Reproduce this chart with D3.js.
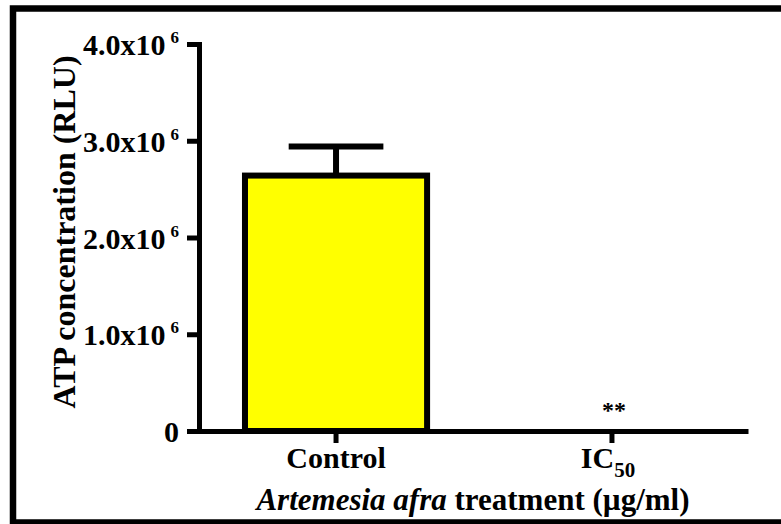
<!DOCTYPE html>
<html>
<head>
<meta charset="utf-8">
<script src="https://cdn.jsdelivr.net/npm/d3@7"></script>
<style>
  body { margin: 0; background: #fff; }
  text { font-family: "Liberation Serif", "Times New Roman", serif; font-weight: bold; fill: #000; }
</style>
</head>
<body>
<script>
// chart data
var categories = ["Control", "IC50"];
var means = [2.64e6, 0];
var sems = [0.30e6, 0];
var stars = ["", "**"];
var yTicks = [0, 1e6, 2e6, 3e6, 4e6];
var yTickMantissa = ["0", "1.0", "2.0", "3.0", "4.0"];
var yTickExponent = "6";

var svgWidth = 781;
var svgHeight = 524;

var svg = d3.select("body")
  .append("svg")
  .attr("width", svgWidth)
  .attr("height", svgHeight);

// outer frame (right edge runs off the picture)
svg.append("rect")
  .attr("x", 13)
  .attr("y", 8.5)
  .attr("width", 800)
  .attr("height", 514)
  .attr("fill", "#fff")
  .attr("stroke", "#000")
  .attr("stroke-width", 6.5);

var xScale = d3.scaleBand()
  .domain(categories)
  .range([200, 748])
  .paddingInner(0.34)
  .paddingOuter(0.163);

var yScale = d3.scaleLinear()
  .domain([0, 4e6])
  .range([431, 44]);

// bars (a zero value gives a zero-height rect, which draws nothing)
svg.selectAll(".bar")
  .data(categories)
  .enter()
  .append("rect")
  .attr("class", "bar")
  .attr("x", function(d) { return xScale(d); })
  .attr("width", xScale.bandwidth())
  .attr("y", function(d, i) { return yScale(means[i]); })
  .attr("height", function(d, i) { return yScale(0) - yScale(means[i]); })
  .attr("fill", "#ffff00")
  .attr("stroke", "#000")
  .attr("stroke-width", 6);

// error bars (upper only)
var capHalf = xScale.bandwidth() * 0.26;
categories.forEach(function(c, i) {
  if (!sems[i]) return;
  var cx = xScale(c) + xScale.bandwidth() / 2;
  svg.append("line")
    .attr("x1", cx).attr("x2", cx)
    .attr("y1", yScale(means[i]))
    .attr("y2", yScale(means[i] + sems[i]))
    .attr("stroke", "#000").attr("stroke-width", 6);
  svg.append("line")
    .attr("x1", cx - capHalf).attr("x2", cx + capHalf)
    .attr("y1", yScale(means[i] + sems[i]))
    .attr("y2", yScale(means[i] + sems[i]))
    .attr("stroke", "#000").attr("stroke-width", 6);
});

// significance marks
svg.selectAll(".star")
  .data(categories)
  .enter()
  .append("text")
  .attr("class", "star")
  .attr("x", function(d) { return xScale(d) + xScale.bandwidth() / 2 + 2; })
  .attr("y", function(d, i) { return yScale(means[i] + sems[i]) - 13; })
  .attr("text-anchor", "middle")
  .attr("font-size", 24)
  .text(function(d, i) { return stars[i]; });

// y axis
var leftAxis = d3.axisLeft(yScale)
  .tickValues(yTicks)
  .tickSize(12)
  .tickSizeOuter(0)
  .tickPadding(8);

var yAxisG = svg.append("g")
  .attr("transform", "translate(199,0)")
  .call(leftAxis);

yAxisG.select(".domain").attr("stroke-width", 5).attr("stroke-linecap", "square");
yAxisG.selectAll(".tick line").attr("stroke-width", 5);
yAxisG.selectAll(".tick text")
  .attr("font-size", 30)
  .attr("dy", "0.35em")
  .each(function(d, i) {
    var t = d3.select(this);
    t.text(null);
    if (d === 0) {
      t.text(yTickMantissa[i]);
    } else {
      t.append("tspan").text(yTickMantissa[i] + "x10");
      t.append("tspan")
        .attr("dx", 5)
        .attr("dy", -12)
        .attr("font-size", 17)
        .text(yTickExponent);
    }
  });

// x axis
var bottomAxis = d3.axisBottom(xScale)
  .tickSize(12)
  .tickSizeOuter(0);

var xAxisG = svg.append("g")
  .attr("transform", "translate(0,431)")
  .call(bottomAxis);

xAxisG.select(".domain").attr("stroke-width", 5);
xAxisG.selectAll(".tick line").attr("stroke-width", 5);
xAxisG.selectAll(".tick text")
  .attr("font-size", 30)
  .attr("y", 37)
  .attr("dy", null)
  .each(function(d) {
    var t = d3.select(this);
    if (d === "IC50") {
      t.text(null).attr("dx", -4);
      t.append("tspan").text("IC");
      t.append("tspan").attr("dy", 9).attr("font-size", 21).text("50");
    }
  });

// axis titles
var xTitle = svg.append("text")
  .attr("x", 473)
  .attr("y", 510)
  .attr("text-anchor", "middle")
  .attr("font-size", 31);
xTitle.append("tspan").attr("font-style", "italic").text("Artemesia afra");
xTitle.append("tspan").text(" treatment (\u00b5g/ml)");

svg.append("text")
  .attr("transform", "translate(75,232) rotate(-90)")
  .attr("text-anchor", "middle")
  .attr("font-size", 32)
  .text("ATP concentration (RLU)");
</script>
</body>
</html>
